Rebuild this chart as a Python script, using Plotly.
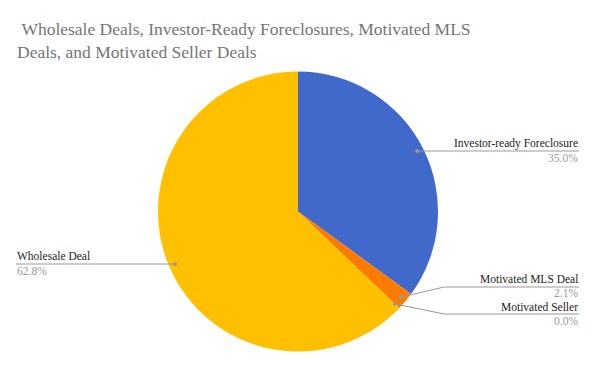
import math
import plotly.graph_objects as go

labels = ["Investor-ready Foreclosure", "Motivated MLS Deal", "Motivated Seller", "Wholesale Deal"]
values = [35.0, 2.1, 0.0, 62.8]
colors = ["#4169cc", "#ff7b00", "#a5a5a5", "#ffc000"]
title_text = "\u00a0Wholesale Deals, Investor-Ready Foreclosures, Motivated MLS<br>Deals, and Motivated Seller Deals"

W, H = 596, 369
CX, CY, R = 298, 211.5, 140
SERIF = "Liberation Serif, Times New Roman, Times, serif"

def px(x):
    return x / W

def py(y):
    return 1 - y / H

fig = go.Figure()
fig.add_trace(go.Pie(
    labels=labels, values=values, sort=False, direction="clockwise", rotation=0,
    marker=dict(colors=colors, line=dict(width=0)),
    textinfo="none", hoverinfo="label+percent", showlegend=False,
    domain=dict(x=[px(CX - R), px(CX + R)], y=[py(CY + R), py(CY - R)]),
))

# label layout: (text x, line y, side, elbow x, label offset, pct offset)
label_layout = [
    (579, 151, "right", None, -8, 7),
    (579, 287, "right", 444, -8, 6),
    (579, 314, "right", 444, -7.5, 7),
    (16, 264, "left", None, -8, 7),
]

total = sum(values)
cum = 0.0
shapes = []
annotations = []
for lab, val, (tx, ly, side, elbow, lo, po) in zip(labels, values, label_layout):
    mid = (cum + val / 2) / total * 2 * math.pi
    cum += val
    dx = CX + 0.955 * R * math.sin(mid)
    dy = CY - 0.955 * R * math.cos(mid)
    dot_r = 2
    shapes.append(dict(type="circle", xref="paper", yref="paper", layer="above",
                       x0=px(dx - dot_r), x1=px(dx + dot_r), y0=py(dy + dot_r), y1=py(dy - dot_r),
                       fillcolor="#999999", line=dict(width=0)))
    if elbow is None:
        pts = [(dx, ly), (tx, ly)]
    else:
        pts = [(dx, dy), (elbow, ly), (tx, ly)]
    for (x0, y0), (x1, y1) in zip(pts[:-1], pts[1:]):
        shapes.append(dict(type="line", xref="paper", yref="paper", layer="above",
                           x0=px(x0), y0=py(y0), x1=px(x1), y1=py(y1),
                           line=dict(color="#999999", width=1)))
    pct = f"{val:.1f}%"
    anchor = "right" if side == "right" else "left"
    annotations.append(dict(text=lab, x=px(tx), y=py(ly + lo), xref="paper", yref="paper",
                            xanchor=anchor, yanchor="middle", showarrow=False, borderpad=0,
                            font=dict(family=SERIF, size=11.5, color="#222222")))
    annotations.append(dict(text=pct, x=px(tx), y=py(ly + po), xref="paper", yref="paper",
                            xanchor=anchor, yanchor="middle", showarrow=False, borderpad=0,
                            font=dict(family=SERIF, size=11.5, color="#999999")))

annotations.append(dict(text=title_text, x=px(15), y=py(17), xref="paper", yref="paper",
                        xanchor="left", yanchor="top", align="left", showarrow=False,
                        font=dict(family=SERIF, size=17.5, color="#757575")))

fig.update_layout(
    width=W, height=H, margin=dict(l=0, r=0, t=0, b=0),
    paper_bgcolor="white", plot_bgcolor="white",
    shapes=shapes, annotations=annotations,
)
fig.write_html("out.html", config={"displayModeBar": False},
               post_script="document.body.style.margin='0';")
